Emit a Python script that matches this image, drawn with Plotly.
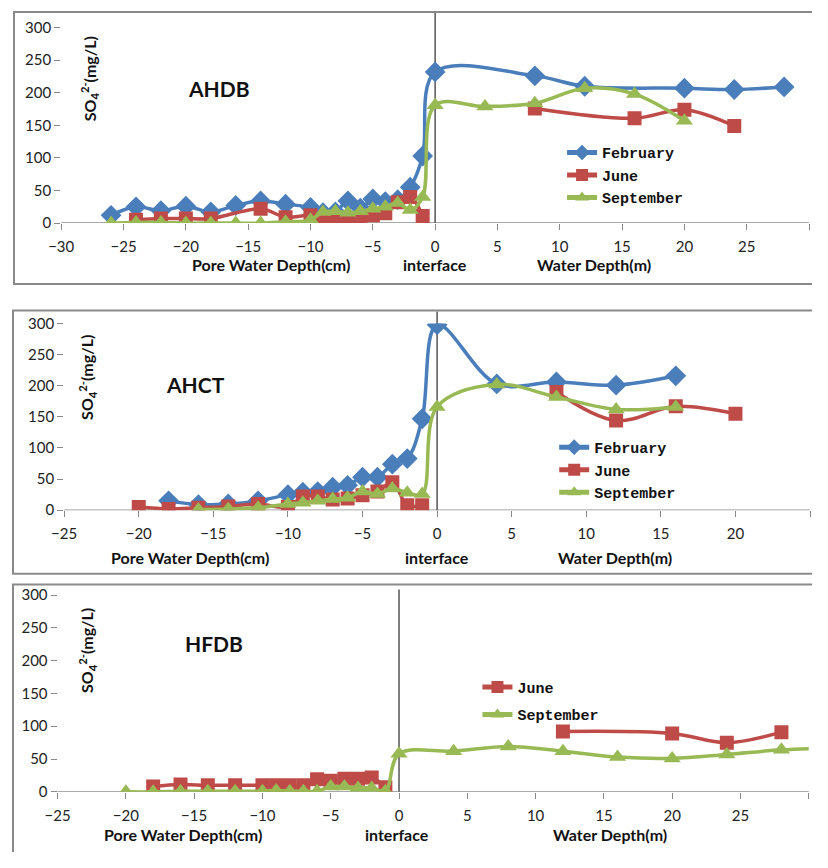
import plotly.graph_objects as go

# ---------------- data ----------------
# AHDB
feb1_x = [-26, -24, -22, -20, -18, -16, -14, -12, -10, -9, -8, -7, -6, -5, -4, -3, -2, -1, 0, 8, 12, 20, 24, 28]
feb1_y = [12, 25, 19, 26, 17, 27, 34, 29, 24, 16, 17, 34, 23, 37, 33, 36, 55, 103, 232, 226, 210, 207, 205, 209]
jun1_x = [-24, -22, -20, -18, -14, -12, -10, -9, -8, -7, -6, -5, -4, -3, -2, -1, None, 8, 16, 20, 24]
jun1_y = [5, 7, 7, 7, 22, 9, 12, 8, 4, 5, 6, 12, 15, 32, 40, 11, None, 176, 161, 174, 149]
sep1_x = [-26, -24, -22, -20, -18, -16, -14, -12, -10, -9, -8, -7, -6, -5, -4, -3, -2, -1, 0, 4, 8, 12, 16, 20]
sep1_y = [0, 1, 1, 0, 0, 0, 0, 2, 5, 17, 18, 16, 18, 22, 25, 31, 20, 40, 181, 179, 184, 207, 198, 157]

# AHCT
feb2_x = [-18, -16, -14, -12, -10, -9, -8, -7, -6, -5, -4, -3, -2, -1, 0, 4, 8, 12, 16]
feb2_y = [15, 9, 10, 15, 25, 29, 30, 37, 40, 53, 53, 74, 83, 147, 298, 203, 206, 201, 216]
jun2_x = [-20, -18, -16, -14, -12, -10, -9, -8, -7, -6, -5, -4, -3, -2, -1, None, 8, 12, 16, 20]
jun2_y = [5, 2, 4, 6, 10, 5, 22, 22, 17, 19, 24, 30, 45, 8, 8, None, 190, 144, 167, 155]
sep2_x = [-16, -14, -12, -10, -9, -8, -7, -6, -5, -4, -3, -2, -1, 0, 4, 8, 12, 16]
sep2_y = [1, 2, 4, 10, 12, 15, 18, 20, 30, 26, 35, 28, 26, 166, 202, 182, 162, 166]

# HFDB
jun3_x = [-18, -16, -14, -12, -10, -9, -8, -7, -6, -5, -4, -3, -2, -1, None, 12, 20, 24, 28]
jun3_y = [8, 11, 10, 10, 10, 10, 10, 10, 19, 17, 20, 20, 22, 7, None, 92, 89, 75, 91]
sep3_x = [-20, -18, -16, -14, -12, -10, -9, -8, -7, -6, -5, -4, -3, -2, -1, 0, 4, 8, 12, 16, 20, 24, 28, 32]
sep3_y = [0, 0, 1, 1, 1, 1, 2, 1, 1, 1, 8, 8, 6, 6, 1, 58, 62, 69, 62, 53, 51, 57, 64, 67]

sites = ["AHDB", "AHCT", "HFDB"]
series_names = ["February", "June", "September"]
y_ticks = [0, 50, 100, 150, 200, 250, 300]

# ---------------- style ----------------
PAGE_MARGIN = 8            # default body margin of the page
W, H = 828 - 2 * PAGE_MARGIN, 868 - 2 * PAGE_MARGIN
BLUE, RED, GREEN = "#4A7EBB", "#BE4B48", "#98B954"
TICKFONT = dict(family="Lato, Open Sans, sans-serif", size=15, color="#222")
LEGFONT = dict(family="Liberation Mono, DejaVu Sans Mono, monospace", size=15, color="#111", weight="bold")
LABFONT = "Lato, Open Sans, sans-serif"

def px_x(p):
    return (p - PAGE_MARGIN) / W

def px_y(p):
    return 1 - (p - PAGE_MARGIN) / H

panels = [
    dict(xr=[-30, 30], xpx=[57, 817], ypx=[225.7, 26], frame=[9, 827, 10, 288], vtop=11),
    dict(xr=[-25, 25], xpx=[60, 818], ypx=[519, 328.3], frame=[8, 827, 315, 584], vtop=316),
    dict(xr=[-25, 30], xpx=[53.3, 816.7], ypx=[806.7, 605.7], frame=[8, 827, 595, 880], vtop=600),
]

fig = go.Figure()

styles = {
    "February": dict(color=BLUE, symbol="diamond", size=16),
    "June": dict(color=RED, symbol="square", size=14),
    "September": dict(color=GREEN, symbol="triangle-up", size=15),
}

data = [
    [("February", feb1_x, feb1_y), ("June", jun1_x, jun1_y), ("September", sep1_x, sep1_y)],
    [("February", feb2_x, feb2_y), ("June", jun2_x, jun2_y), ("September", sep2_x, sep2_y)],
    [("June", jun3_x, jun3_y), ("September", sep3_x, sep3_y)],
]

for i, traces in enumerate(data):
    ax = "" if i == 0 else str(i + 1)
    leg = "legend" if i == 0 else "legend%d" % (i + 1)
    for name, xs, ys in traces:
        st = styles[name]
        fig.add_trace(go.Scatter(
            x=xs, y=ys, name=name, mode="lines+markers",
            line=dict(color=st["color"], width=3.5, shape="spline", smoothing=1.0),
            marker=dict(color=st["color"], symbol=st["symbol"], size=st["size"],
                        line=dict(width=0)),
            connectgaps=False, legendgroup="%s-%d" % (name, i),
            xaxis="x" + ax, yaxis="y" + ax, legend=leg,
        ))

layout = dict(
    width=W, height=H, margin=dict(l=0, r=0, t=0, b=0, pad=0),
    paper_bgcolor="white", plot_bgcolor="white", showlegend=True,
)

shapes = []
annotations = []
for i, p in enumerate(panels):
    ax = "" if i == 0 else str(i + 1)
    layout["xaxis" + ax] = dict(
        domain=[px_x(p["xpx"][0]), px_x(p["xpx"][1])], range=p["xr"], anchor="y" + ax,
        tickmode="linear", tick0=0, dtick=5, ticks="outside", ticklen=6, tickcolor="#888",
        showline=False, showgrid=False, zeroline=False, tickfont=TICKFONT, ticklabelstandoff=4,
    )
    layout["yaxis" + ax] = dict(
        domain=[px_y(p["ypx"][0]), px_y(p["ypx"][1])], range=[0, 300], anchor="x" + ax,
        tickvals=y_ticks, ticks="outside", ticklen=6, tickcolor="#888",
        showline=False, showgrid=False, zeroline=False, tickfont=TICKFONT,
    )
    shapes.append(dict(type="line", xref="x" + ax + " domain", yref="y" + ax,
                       x0=0, x1=1, y0=0, y1=0, line=dict(color="#8c8c8c", width=1.5), layer="below"))
    shapes.append(dict(type="line", xref="x" + ax, yref="paper",
                       x0=0, x1=0, y0=px_y(p["ypx"][0]), y1=px_y(p["vtop"]),
                       line=dict(color="#555", width=1.5), layer="below"))
    f = p["frame"]
    shapes.append(dict(type="rect", xref="paper", yref="paper",
                       x0=px_x(f[0]), x1=px_x(f[1]), y0=px_y(f[3]), y1=px_y(f[2]),
                       line=dict(color="#8a8a8a", width=2), fillcolor="rgba(0,0,0,0)", layer="below"))

labels = [
    ("AHDB", 217, 88, 86, 78, 270, 437, 598, 268),
    ("AHCT", 193, 391, 83, 383, 188, 439, 620, 567),
    ("HFDB", 212, 655, 83, 662, 181, 398, 615, 850),
]
for site, sx, sy, yx, yy, px_, ix, wx, ly in labels:
    annotations.append(dict(text="<b>%s</b>" % site, x=px_x(sx), y=px_y(sy), xref="paper", yref="paper",
                            xanchor="center", yanchor="middle",
                            showarrow=False, font=dict(family=LABFONT, size=21, color="#111")))
    annotations.append(dict(text="<b>SO<sub>4</sub><sup>2-</sup>(mg/L)</b>", x=px_x(yx), y=px_y(yy),
                            xref="paper", yref="paper", showarrow=False, textangle=-90,
                            xanchor="center", yanchor="middle",
                            font=dict(family=LABFONT, size=16, color="#111")))
    for t, tx in (("Pore Water Depth(cm)", px_), ("interface", ix), ("Water Depth(m)", wx)):
        annotations.append(dict(text="<b>%s</b>" % t, x=px_x(tx), y=px_y(ly), xref="paper", yref="paper",
                                xanchor="center", yanchor="middle",
                                showarrow=False, font=dict(family=LABFONT, size=16, color="#111")))

layout["shapes"] = shapes
layout["annotations"] = annotations

leg_common = dict(xanchor="left", yanchor="top", bgcolor="rgba(0,0,0,0)", borderwidth=0,
                  font=LEGFONT, itemsizing="constant")
layout["legend"] = dict(leg_common, x=px_x(566), y=px_y(137), tracegroupgap=0)
layout["legend2"] = dict(leg_common, x=px_x(558), y=px_y(438), tracegroupgap=0)
layout["legend3"] = dict(leg_common, x=px_x(480), y=px_y(683), tracegroupgap=5)

fig.update_layout(**layout)
fig.write_html("out.html")
